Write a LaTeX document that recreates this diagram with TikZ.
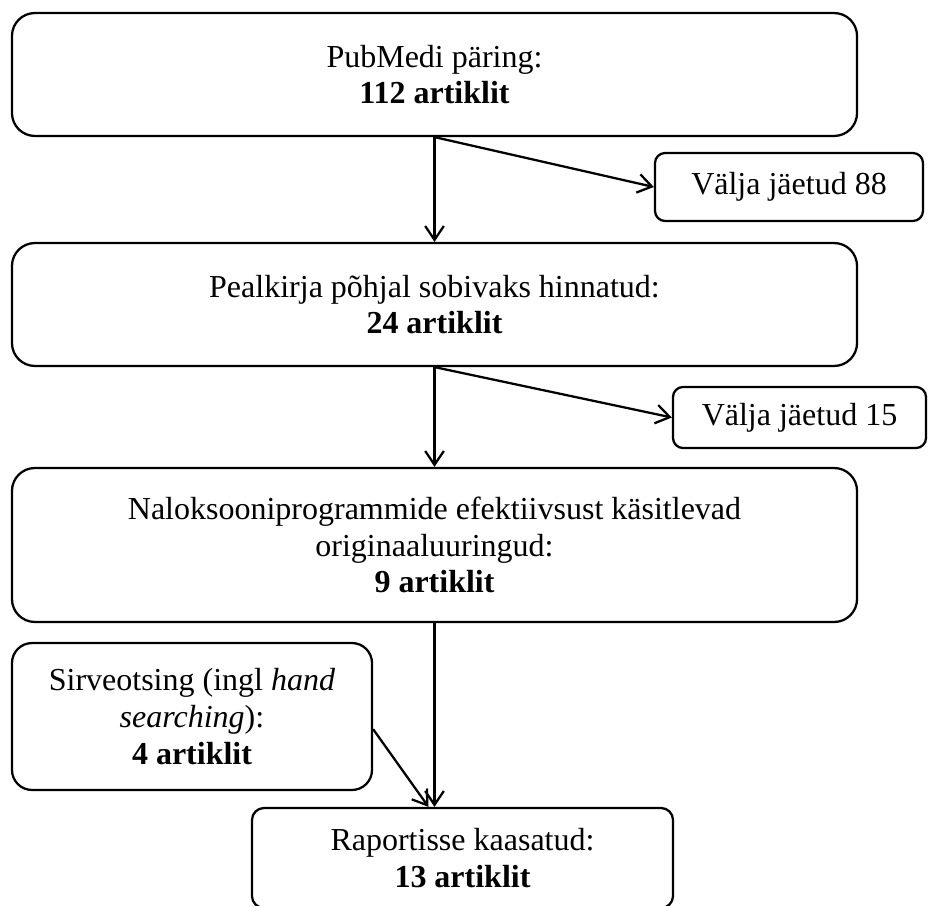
\documentclass[tikz,border=0pt]{standalone}
\usepackage{fontspec}
\setmainfont{Liberation Serif}
\usepackage{tikz}
\usetikzlibrary{calc,arrows.meta,positioning}

\begin{document}
\begin{tikzpicture}[x=0.375pt, y=-0.375pt,
        font=\fontsize{12}{13.8}\selectfont,
        bigbox/.style={draw, line width=0.85pt, rounded corners=8.6pt, inner sep=0pt,
            align=center, minimum width=316.9pt, minimum height=46.1pt},
        outbox/.style={draw, line width=0.85pt, rounded corners=3.8pt, inner sep=0pt,
            align=center},
        flow/.style={line width=0.85pt, -{Straight Barb[length=5.2pt, width=7pt]}}]
        \useasboundingbox (0,0) rectangle (936,906);

        % main column
        \node[bigbox] (query) at (434.5,74.5) {PubMedi päring:\\ \textbf{112 artiklit}};
        \node[bigbox] (title) at (434.5,304.5) {Pealkirja põhjal sobivaks hinnatud:\\ \textbf{24 artiklit}};
        \node[bigbox, minimum height=57.75pt] (orig) at (434.5,545)
            {Naloksooniprogrammide efektiivsust käsitlevad\\ originaaluuringud:\\ \textbf{9 artiklit}};

        % excluded
        \node[outbox, minimum width=100.5pt, minimum height=25.5pt] (excl1) at (789,187) {Välja jäetud 88};
        \node[outbox, minimum width=94.9pt, minimum height=22.9pt] (excl2) at (799.5,417.5) {Välja jäetud 15};

        % hand searching + result (bottom edge runs off the page)
        \node[outbox, rounded corners=7.5pt, minimum width=135pt, minimum height=55.1pt] (hand) at (192,716.5)
            {Sirveotsing (ingl \textit{hand}\\ \textit{searching}):\\ \textbf{4 artiklit}};
        \node[outbox, rounded corners=4.5pt, minimum width=157.9pt, minimum height=37.5pt] (report) at (462.5,858)
            {Raportisse kaasatud:\\ \textbf{13 artiklit}};

        % arrows
        \draw[flow] (query.south) -- (title.north);
        \draw[flow] (query.south) -- (excl1.west);
        \draw[flow] (title.south) -- (orig.north);
        \draw[flow] (title.south) -- (excl2.west);
        \draw[flow] (orig.south) -- (orig.south |- report.north);
        \draw[flow] (hand.-4) -- ($(report.north)+(-34,0)$);
    \end{tikzpicture}
\end{document}
